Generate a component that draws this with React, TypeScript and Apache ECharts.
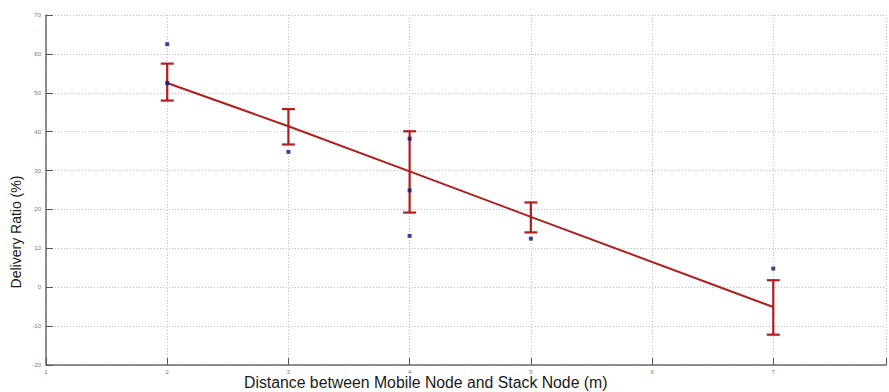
import React, { useEffect, useRef } from "react";
import * as echarts from "echarts";

const distances = [2, 3, 4, 5, 7];
const meanRatio = [52.5, 41.4, 29.8, 18.1, -5.1];
const errLow = [48.0, 36.7, 19.2, 14.1, -12.2];
const errHigh = [57.5, 45.8, 40.1, 21.8, 1.8];
const sampleX = [2, 2, 3, 4, 4, 4, 5, 7];
const sampleY = [62.5, 52.5, 34.8, 38.2, 24.9, 13.2, 12.5, 4.8];

const xTitle = "Distance between Mobile Node and Stack Node (m)";
const yTitle = "Delivery Ratio (%)";

const RED = "#b01e1e";
const NAVY = "#14147a";
const FONT = "Liberation Sans, Arial, sans-serif";

export default function App() {
  const ref = useRef<HTMLDivElement>(null);
  useEffect(() => {
    if (!ref.current) return;
    const chart = echarts.init(ref.current, undefined, { renderer: "svg" });
    const grid = { color: "#bdbdbd", width: 1, type: [1, 2] };
    chart.setOption({
      animation: false,
      backgroundColor: "#ffffff",
      grid: { left: 46, top: 15, right: 0, bottom: 27, containLabel: false },
      graphic: [
        {
          type: "text",
          left: 428 - 184,
          top: 374,
          style: { text: xTitle, font: `15.8px ${FONT}`, fill: "#1a1a1a" },
        },
        {
          type: "text",
          x: 16,
          y: 232,
          rotation: Math.PI / 2,
          style: {
            text: yTitle,
            font: `14px ${FONT}`,
            fill: "#1a1a1a",
            align: "center",
            verticalAlign: "middle",
          },
        },
      ],
      xAxis: {
        type: "value",
        min: 1,
        max: 7.93,
        interval: 1,
        axisLine: { onZero: false, lineStyle: { color: "#6a6a6a", width: 1.5 } },
        axisTick: { inside: true, length: 7, lineStyle: { color: "#555" } },
        axisLabel: {
          fontSize: 6,
          color: "#777",
          margin: 4,
          fontFamily: FONT,
          formatter: (v: number) => (Number.isInteger(v) ? String(v) : ""),
        },
        splitLine: { show: true, lineStyle: grid },
      },
      yAxis: {
        type: "value",
        min: -20,
        max: 70,
        interval: 10,
        axisLine: { show: true, onZero: false, lineStyle: { color: "#6a6a6a", width: 1.5 } },
        axisTick: { show: true, inside: true, length: 7, lineStyle: { color: "#555" } },
        axisLabel: { fontSize: 6, color: "#777", margin: 5, fontFamily: FONT },
        splitLine: { show: true, lineStyle: grid },
      },
      series: [
        {
          type: "line",
          data: distances.map((d, i) => [d, meanRatio[i]]),
          symbol: "none",
          lineStyle: { color: RED, width: 2 },
          z: 3,
        },
        {
          type: "custom",
          data: distances.map((d, i) => [d, errLow[i], errHigh[i]]),
          renderItem: (params: any, api: any) => {
            const x = api.value(0);
            const lo = api.coord([x, api.value(1)]);
            const hi = api.coord([x, api.value(2)]);
            const hw = 6.5;
            const style = { stroke: RED, lineWidth: 2.2, fill: "none" };
            return {
              type: "group",
              children: [
                { type: "line", shape: { x1: lo[0], y1: lo[1], x2: hi[0], y2: hi[1] }, style },
                { type: "line", shape: { x1: lo[0] - hw, y1: lo[1], x2: lo[0] + hw, y2: lo[1] }, style },
                { type: "line", shape: { x1: hi[0] - hw, y1: hi[1], x2: hi[0] + hw, y2: hi[1] }, style },
              ],
            };
          },
          z: 4,
        },
        {
          type: "scatter",
          data: sampleX.map((x, i) => [x, sampleY[i]]),
          symbol: "rect",
          symbolSize: 4,
          itemStyle: { color: NAVY },
          z: 5,
        },
      ],
    });
    return () => chart.dispose();
  }, []);
  return (
    <div
      ref={ref}
      style={{ position: "fixed", left: 0, top: 0, width: 889, height: 392 }}
    />
  );
}
